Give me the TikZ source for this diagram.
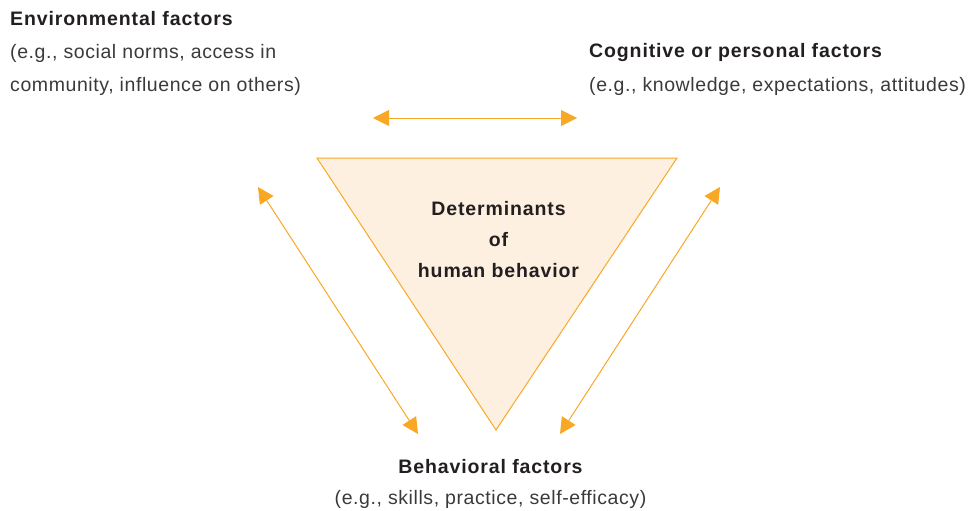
\documentclass[tikz,border=0pt]{standalone}
\usepackage{fontspec}
\setmainfont{Liberation Sans}
\usetikzlibrary{arrows.meta}
\definecolor{orng}{HTML}{F9A825}
\definecolor{tfill}{HTML}{FDF0E0}
\definecolor{txtb}{HTML}{231F20}
\definecolor{txtr}{HTML}{3A3A3A}
\tikzset{
  hd/.style={inner sep=0pt, text=txtb, font=\fontsize{19.5}{24}\selectfont\bfseries\addfontfeature{LetterSpace=4.5}},
  bd/.style={inner sep=0pt, text=txtr, font=\fontsize{19.5}{24}\selectfont\addfontfeature{LetterSpace=3}},
  rel/.style={draw=orng, line width=1pt, {Triangle[length=16pt,width=16pt]}-{Triangle[length=16pt,width=16pt]}, orng},
  tri/.style={draw=orng, fill=tfill, line width=1pt, line join=miter}
}
\begin{document}
\begin{tikzpicture}[x=1pt,y=-1pt]
\useasboundingbox (0,0) rectangle (974,511);
% triangle
\coordinate (tl) at (317,158);
\coordinate (tr) at (677,158);
\coordinate (tb) at (496,430);
\draw[tri] (tl) -- (tr) -- (tb) -- cycle;
% environmental
\node[hd, anchor=base west] (env1) at (10,26) {Environmental factors};
\node[bd, anchor=base west] (env2) at (10,59) {(e.g., social norms, access in};
\node[bd, anchor=base west] (env3) at (10,92) {community, influence on others)};
% cognitive
\node[hd, anchor=base west] (cog1) at (589,58) {Cognitive or personal factors};
\node[bd, anchor=base west] (cog2) at (589,91) {(e.g., knowledge, expectations, attitudes)};
% center
\node[hd, anchor=base] (det1) at (498.5,215) {Determinants};
\node[hd, anchor=base] (det2) at (498.5,246) {of};
\node[hd, anchor=base] (det3) at (498.5,277) {human behavior};
% behavioral
\node[hd, anchor=base] (beh1) at (490.5,473) {Behavioral factors};
\node[bd, anchor=base] (beh2) at (490.5,504) {(e.g., skills, practice, self-efficacy)};
% arrows
\coordinate (a1) at (373,118);
\coordinate (a2) at (577,118);
\coordinate (b1) at (258,187);
\coordinate (b2) at (418,434);
\coordinate (c1) at (720,187);
\coordinate (c2) at (560,434);
\draw[rel] (a1) -- (a2);
\draw[rel] (b1) -- (b2);
\draw[rel] (c1) -- (c2);
\end{tikzpicture}
\end{document}
